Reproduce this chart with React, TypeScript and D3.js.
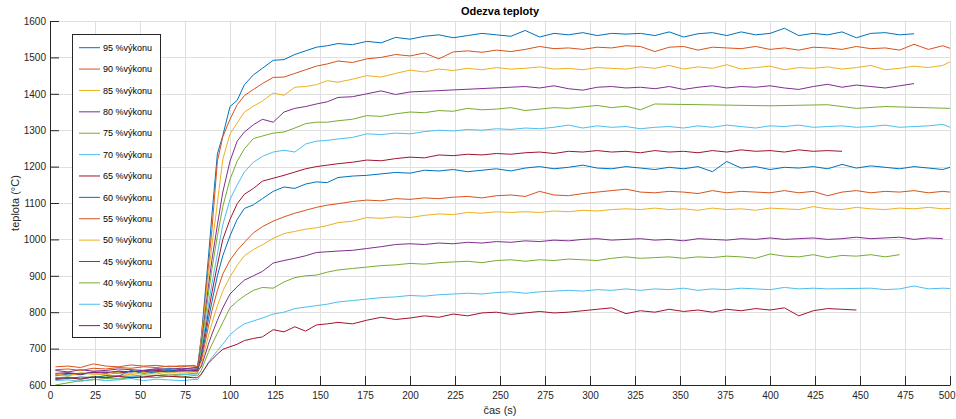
import React, { useEffect, useRef } from 'react';
import * as d3 from 'd3';

// time axis shared by all series (s)
const times = [3, 10, 17, 24, 31, 38, 45, 52, 59, 66, 73, 80, 82,
  84, 86, 88, 90, 93, 96, 100, 104, 108, 113, 118, 124, 130, 136, 142, 148, 154,
  160, 168, 176, 184, 192, 200, 208, 216, 224, 232, 240, 248, 256, 264, 272, 280, 288, 296, 304, 312,
  320, 328, 336, 344, 352, 360, 368, 376, 384, 392, 400, 408, 416, 424, 432, 440, 448, 456, 464, 472,
  480, 488, 496, 500];

const s95 = [625, 630, 628, 635, 632, 638, 636, 640, 642, 645, 643, 648, 648,
  730, 840, 950, 1070, 1235, 1285, 1365, 1382, 1425, 1452, 1470, 1492, 1494, 1508, 1518, 1528, 1532,
  1538, 1535, 1544, 1540, 1555, 1550, 1558, 1562, 1554, 1560, 1566, 1562, 1558, 1574, 1556, 1566, 1562, 1568, 1560, 1566,
  1564, 1566, 1560, 1570, 1556, 1565, 1568, 1560, 1570, 1562, 1566, 1580, 1560, 1566, 1562, 1570, 1554, 1566, 1568, 1562,
  1565];
const s90 = [650, 652, 648, 658, 652, 650, 655, 652, 654, 650, 653, 652, 650,
  725, 825, 925, 1030, 1215, 1282, 1330, 1370, 1395, 1412, 1428, 1445, 1446, 1456, 1466, 1476, 1482,
  1490, 1486, 1496, 1500, 1508, 1504, 1512, 1496, 1515, 1518, 1514, 1520, 1516, 1522, 1530, 1524, 1526, 1522, 1528, 1526,
  1532, 1530, 1516, 1528, 1530, 1520, 1528, 1526, 1524, 1530, 1522, 1526, 1520, 1528, 1526, 1522, 1530, 1524, 1526, 1520,
  1536, 1522, 1532, 1525];
const s85 = [628, 625, 632, 630, 628, 634, 632, 636, 634, 638, 636, 640, 640,
  720, 810, 900, 985, 1100, 1220, 1290, 1320, 1350, 1366, 1380, 1402, 1396, 1418, 1420, 1425, 1436,
  1432, 1440, 1450, 1446, 1456, 1465, 1460, 1468, 1464, 1470, 1466, 1472, 1468, 1470, 1474, 1468, 1470, 1466, 1472, 1470,
  1468, 1474, 1470, 1478, 1468, 1474, 1470, 1480, 1468, 1472, 1476, 1466, 1472, 1470, 1474, 1468, 1472, 1478, 1466, 1470,
  1476, 1472, 1478, 1488];
const s80 = [640, 636, 642, 638, 640, 644, 642, 640, 645, 643, 646, 644, 645,
  710, 790, 870, 945, 1040, 1130, 1215, 1270, 1295, 1315, 1330, 1322, 1350, 1360, 1365, 1372, 1378,
  1390, 1392, 1400, 1408, 1398, 1405, null, null, null, null, null, null, null, 1420, 1416, 1422, 1414, 1410, 1418, 1420,
  1416, 1418, 1414, 1420, 1412, 1418, 1422, 1416, 1420, 1418, 1422, 1416, 1412, 1420, 1426, 1418, 1424, 1420, 1416, 1422,
  1428];
const s75 = [620, 622, 618, 624, 622, 626, 624, 628, 626, 630, 628, 632, 632,
  700, 775, 850, 920, 1010, 1090, 1165, 1215, 1249, 1277, 1284, 1292, 1295, 1306, 1318, 1322, 1322,
  1326, 1330, 1340, 1338, 1345, 1350, 1348, 1354, 1352, 1360, 1356, 1358, 1362, 1354, 1358, 1362, 1360, 1364, 1368, 1362,
  1366, 1356, 1372, null, null, null, null, null, null, null, 1367, null, null, null, 1370, null, 1360, null, 1365, null,
  null, null, null, 1360];
const s70 = [618, 620, 616, 622, 620, 618, 624, 622, 626, 624, 628, 630, 630,
  690, 755, 820, 880, 960, 1040, 1110, 1150, 1185, 1212, 1228, 1240, 1245, 1240, 1262, 1270, 1272,
  1276, 1280, 1290, 1288, 1292, 1290, 1296, 1300, 1298, 1302, 1300, 1304, 1302, 1306, 1304, 1308, 1314, 1306, 1312, 1308,
  1310, 1304, 1308, 1310, 1306, 1312, 1308, 1314, 1310, 1306, 1312, 1310, 1314, 1308, 1310, 1312, 1308, 1310, 1314, 1308,
  1310, 1312, 1316, 1308];
const s65 = [628, 632, 630, 634, 636, 632, 638, 636, 640, 638, 642, 640, 640,
  680, 740, 800, 855, 930, 1000, 1055, 1098, 1124, 1140, 1160, 1168, 1176, 1185, 1194, 1200, 1204,
  1208, 1212, 1218, 1216, 1222, 1226, 1224, 1232, 1230, 1234, 1232, 1236, 1234, 1238, 1240, 1236, 1242, 1240, 1244, 1240,
  1242, 1238, 1244, 1240, 1242, 1238, 1244, 1240, 1246, 1242, 1244, 1240, 1246, 1242, 1244, 1242];
const s60 = [615, 618, 622, 620, 626, 624, 640, 632, 636, 640, 638, 642, 642,
  670, 725, 780, 830, 900, 955, 1010, 1055, 1085, 1095, 1112, 1132, 1144, 1140, 1152, 1158, 1156,
  1170, 1174, 1176, 1180, 1184, 1182, 1190, 1188, 1192, 1186, 1190, 1194, 1188, 1196, 1200, 1194, 1198, 1204, 1196, 1194,
  1200, 1196, 1192, 1198, 1194, 1200, 1186, 1214, 1196, 1200, 1192, 1198, 1196, 1200, 1194, 1206, 1196, 1202, 1198, 1194,
  1200, 1196, 1192, 1198];
const s55 = [642, 644, 640, 646, 644, 648, 646, 650, 648, 652, 650, 654, 650,
  665, 712, 760, 805, 860, 905, 943, 970, 992, 1018, 1035, 1050, 1062, 1072, 1080, 1088, 1094,
  1098, 1104, 1108, 1106, 1112, 1110, 1114, 1112, 1116, 1118, 1114, 1120, 1122, 1118, 1132, 1122, 1120, 1126, 1130, 1134,
  1138, 1130, 1128, 1132, 1130, 1126, 1134, 1128, 1132, 1130, 1128, 1134, 1128, 1132, 1120, 1130, 1134, 1128, 1132, 1130,
  1134, 1128, 1132, 1130];
const s50 = [630, 626, 634, 630, 636, 632, 628, 634, 630, 636, 632, 636, 635,
  655, 695, 735, 770, 818, 858, 897, 929, 955, 972, 985, 1003, 1016, 1022, 1028, 1032, 1038,
  1046, 1050, 1060, 1058, 1062, 1060, 1066, 1070, 1068, 1074, 1072, 1076, 1074, 1076, 1074, 1078, 1076, 1080, 1078, 1082,
  1084, 1082, 1086, 1082, 1084, 1080, 1086, 1082, 1084, 1080, 1086, 1084, 1082, 1090, 1084, 1082, 1088, 1084, 1082, 1086,
  1084, 1088, 1084, 1085];
const s45 = [632, 634, 630, 636, 634, 638, 636, 640, 638, 636, 640, 638, 638,
  650, 680, 712, 740, 778, 812, 850, 870, 888, 900, 912, 935, 942, 948, 955, 964, 966,
  968, 970, 975, 980, 986, 988, 986, 990, 988, 992, 990, 994, 992, 996, 994, 998, 996, 1000, 1002, 998,
  1000, 1002, 998, 1000, 996, 1002, 1000, 998, 1002, 1000, 1004, 1000, 1002, 1004, 1000, 1002, 1006, 1002, 1004, 1006,
  1000, 1004, 1002];
const s40 = [600, 606, 612, 614, 618, 616, 620, 622, 620, 624, 622, 626, 625,
  640, 665, 690, 712, 742, 772, 812, 830, 845, 860, 868, 866, 883, 895, 900, 902, 910,
  916, 920, 924, 928, 930, 934, 932, 936, 938, 940, 936, 942, 944, 940, 944, 942, 946, 944, 942, 948,
  952, 948, 950, 952, 948, 952, 950, 954, 952, 948, 960, 954, 952, 958, 950, 956, 954, 958, 952, 958];
const s35 = [612, 614, 610, 616, 612, 614, 618, 612, 616, 614, 612, 615, 615,
  628, 645, 662, 676, 694, 712, 738, 755, 768, 776, 784, 795, 800, 810, 814, 818, 822,
  828, 832, 836, 840, 842, 846, 844, 848, 850, 852, 850, 854, 856, 852, 856, 858, 860, 858, 862, 860,
  864, 860, 864, 862, 866, 860, 864, 862, 866, 864, 862, 868, 864, 866, 864, null, null, 866, 862, 864,
  872, 864, 866, 865];
const s30 = [618, 620, 616, 622, 620, 624, 620, 622, 626, 624, 622, 620, 620,
  630, 645, 660, 670, 685, 698, 705, 712, 722, 728, 732, 752, 746, 760, 748, 765, 768,
  772, 768, 778, 786, 780, 784, 790, 786, 795, 790, 798, 800, 794, 798, 802, 798, 800, 804, 808, 812,
  796, 804, 800, 808, 802, 806, 800, 808, 804, 810, 806, 812, 790, 804, 810, 808, 806];

const seriesLabels = ['95 %výkonu', '90 %výkonu', '85 %výkonu', '80 %výkonu', '75 %výkonu', '70 %výkonu', '65 %výkonu',
  '60 %výkonu', '55 %výkonu', '50 %výkonu', '45 %výkonu', '40 %výkonu', '35 %výkonu', '30 %výkonu'];
const seriesValues = [s95, s90, s85, s80, s75, s70, s65, s60, s55, s50, s45, s40, s35, s30];

const xTickValues = [0, 25, 50, 75, 100, 125, 150, 175, 200, 225, 250, 275, 300, 325, 350, 375, 400, 425, 450, 475, 500];
const yTickValues = [600, 700, 800, 900, 1000, 1100, 1200, 1300, 1400, 1500, 1600];

const colors = ['#0072BD', '#D95319', '#EDB120', '#7E2F8E', '#77AC30', '#4DBEEE', '#A2142F'];
const font = "'Liberation Sans', Arial, sans-serif";
const ink = '#262626';

const App = () => {
  const svgRef = useRef<SVGSVGElement>(null);

  useEffect(() => {
    document.body.style.margin = '0';
    const svg = d3.select(svgRef.current);
    svg.selectAll('*').remove();

    const width = 956;
    const height = 419;
    const margin = { top: 21, right: 6, bottom: 34, left: 50 };

    const x = d3.scaleLinear().domain([0, 500]).range([margin.left, width - margin.right]);
    const y = d3.scaleLinear().domain([600, 1600]).range([height - margin.bottom, margin.top]);

    svg.append('rect').attr('width', width).attr('height', height).attr('fill', '#fff');

    // grid
    const grid = svg.append('g').attr('stroke', '#dfdfdf').attr('stroke-width', 1);
    grid.selectAll('.vx').data(xTickValues.slice(1)).join('line')
      .attr('x1', d => Math.round(x(d)) + 0.5).attr('x2', d => Math.round(x(d)) + 0.5)
      .attr('y1', y(1600)).attr('y2', y(600));
    grid.selectAll('.hy').data(yTickValues.slice(1)).join('line')
      .attr('x1', x(0)).attr('x2', x(500))
      .attr('y1', d => Math.round(y(d)) + 0.5).attr('y2', d => Math.round(y(d)) + 0.5);

    // lines
    const line = d3.line<{ t: number; v: number }>().x(d => x(d.t)).y(d => y(d.v));
    seriesValues.forEach((vals, i) => {
      const pts = vals
        .map((v, j) => ({ t: times[j], v: v as number }))
        .filter(d => d.v !== null && d.v !== undefined);
      svg.append('path')
        .datum(pts)
        .attr('d', line)
        .attr('fill', 'none')
        .attr('stroke', colors[i % colors.length])
        .attr('stroke-width', 1)
        .attr('stroke-linejoin', 'round');
    });

    // axes
    const xAxis = svg.append('g')
      .attr('transform', `translate(0,${y(600)})`)
      .call(d3.axisBottom(x).tickValues(xTickValues).tickFormat(d3.format('d')).tickSizeInner(-9).tickSizeOuter(0).tickPadding(7));
    const yAxis = svg.append('g')
      .attr('transform', `translate(${x(0)},0)`)
      .call(d3.axisLeft(y).tickValues(yTickValues).tickFormat(d3.format('d')).tickSizeInner(-9).tickSizeOuter(0).tickPadding(4));
    [xAxis, yAxis].forEach(g => {
      g.selectAll('path').attr('stroke', ink);
      g.selectAll('line').attr('stroke', ink);
      g.selectAll('text').attr('fill', ink).style('font-family', font).style('font-size', '10px');
    });
    // keep the last x label inside the window
    xAxis.selectAll('.tick:last-of-type text').attr('text-anchor', 'end').attr('x', 5);

    // title and labels
    svg.append('text')
      .attr('x', 500).attr('y', 15).attr('text-anchor', 'middle')
      .style('font-family', font).style('font-size', '11px').style('font-weight', 'bold')
      .attr('fill', '#000').text('Odezva teploty');
    svg.append('text')
      .attr('x', 500).attr('y', 414).attr('text-anchor', 'middle')
      .style('font-family', font).style('font-size', '11px')
      .attr('fill', ink).text('čas (s)');
    svg.append('text')
      .attr('transform', 'translate(19,203) rotate(-90)').attr('text-anchor', 'middle')
      .style('font-family', font).style('font-size', '11px')
      .attr('fill', ink).text('teplota (°C)');

    // legend
    const legend = svg.append('g');
    legend.append('rect')
      .attr('x', 72.5).attr('y', 34.5).attr('width', 88).attr('height', 303)
      .attr('fill', '#fff').attr('stroke', ink).attr('stroke-width', 1);
    seriesLabels.forEach((label, i) => {
      const ly = 47.7 + i * 21.38;
      legend.append('line')
        .attr('x1', 79).attr('x2', 100).attr('y1', ly).attr('y2', ly)
        .attr('stroke', colors[i % colors.length]).attr('stroke-width', 1);
      legend.append('text')
        .attr('x', 103).attr('y', ly + 3.2)
        .style('font-family', font).style('font-size', '9px')
        .attr('fill', '#000').text(label);
    });
  }, []);

  return <svg ref={svgRef} width="956" height="419" style={{ display: 'block' }}></svg>;
};

export default App;
